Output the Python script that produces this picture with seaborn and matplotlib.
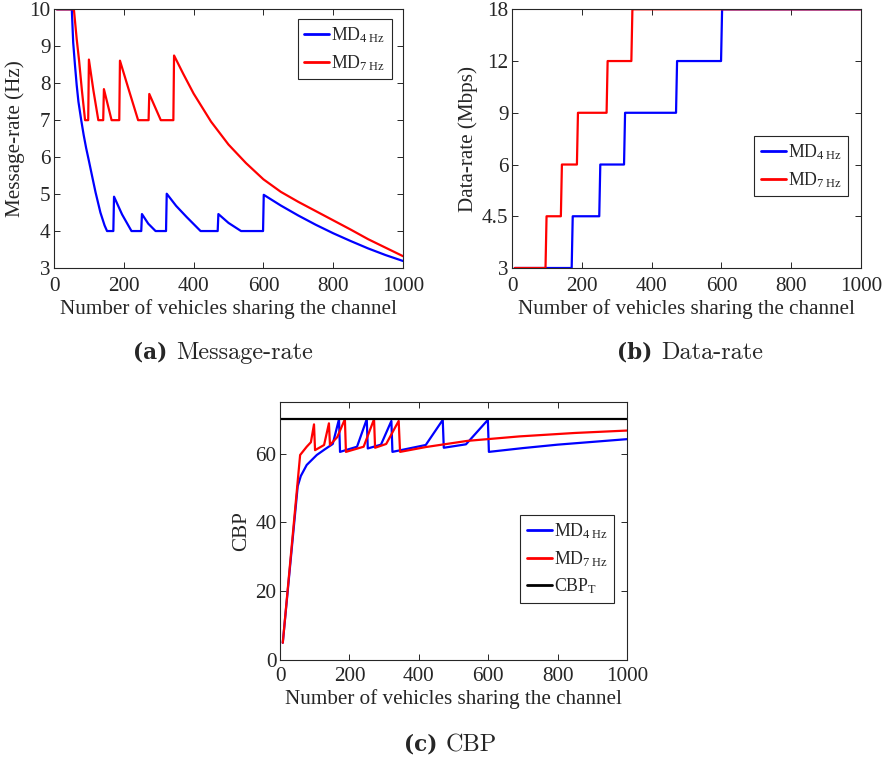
import numpy as np
import pandas as pd
import matplotlib
matplotlib.use("Agg")
import matplotlib.pyplot as plt
import seaborn as sns

# ---------------- data ----------------
# (a) message rate (Hz) versus number of vehicles
n_rate_4hz = [8, 51, 55, 60, 65, 70, 78, 85, 92, 100, 110, 119, 133, 145, 152, 170, 172, 195, 222,
              250, 252, 270, 291, 321, 323, 350, 380, 420, 469, 471, 500, 536, 599, 601, 650, 700,
              750, 800, 850, 900, 950, 1000]
rate_4hz = [10, 10, 9.1, 8.5, 7.95, 7.5, 7.0, 6.6, 6.25, 5.9, 5.45, 5.05, 4.5, 4.15, 4.0, 4.0, 4.93,
            4.45, 4.0, 4.0, 4.46, 4.2, 4.0, 4.0, 5.01, 4.68, 4.38, 4.0, 4.0, 4.46, 4.22, 4.0, 4.0,
            4.98, 4.69, 4.42, 4.17, 3.94, 3.73, 3.53, 3.35, 3.19]

n_rate_7hz = [8, 57, 65, 72, 80, 89, 98, 100, 113, 127, 141, 143, 165, 187, 189, 215, 241,
              271, 273, 306, 342, 344, 370, 400, 450, 500, 550, 600, 650, 700, 750, 800, 850,
              900, 950, 1000]
rate_7hz = [10, 10, 9.2, 8.6, 7.8, 7.0, 7.0, 8.64, 7.8, 7.0, 7.0, 7.84, 7.0, 7.0, 8.61, 7.8, 7.0,
            7.0, 7.71, 7.0, 7.0, 8.75, 8.26, 7.72, 6.96, 6.34, 5.84, 5.40, 5.06, 4.79, 4.54, 4.29,
            4.04, 3.78, 3.55, 3.32]

# (b) data rate (Mbps)
rate_levels = [3, 4.5, 6, 9, 12, 18]
n_drate_4hz = [8, 171, 174, 250, 253, 321, 324, 470, 473, 599, 602, 1000]
drate_4hz = [3, 3, 4.5, 4.5, 6, 6, 9, 9, 12, 12, 18, 18]
n_drate_7hz = [8, 96, 99, 140, 143, 186, 189, 271, 274, 342, 345, 1000]
drate_7hz = [3, 3, 4.5, 4.5, 6, 6, 9, 9, 12, 12, 18, 18]

# (c) channel busy percentage
n_cbp_4hz = [8, 51, 60, 77, 106, 130, 152, 170, 173, 222, 250, 253, 291, 321, 324, 420, 469, 472,
             536, 599, 602, 700, 800, 900, 1000]
cbp_4hz = [5, 50.5, 53.5, 56.7, 59.6, 61.3, 62.8, 70, 60.5, 62, 70, 61.5, 62.6, 69.5, 60.5, 62.5,
           69.8, 61.7, 62.7, 69.8, 60.5, 61.6, 62.6, 63.4, 64.2]
n_cbp_7hz = [8, 58, 77, 89, 98, 101, 127, 141, 144, 165, 187, 190, 241, 271, 274, 306, 342, 346,
             420, 540, 690, 850, 1000]
cbp_7hz = [5, 59.6, 62, 63.3, 68.5, 61, 62.5, 68.8, 62.5, 64.8, 70, 60.5, 62, 70, 61.7, 62.8, 69.5,
           60.5, 61.9, 63.7, 65, 66, 66.7]
cbp_threshold = 70

series_labels = [r"MD$_{\mathrm{4\ Hz}}$", r"MD$_{\mathrm{7\ Hz}}$"]
threshold_label = r"CBP$_{\mathrm{T}}$"
xlabel = "Number of vehicles sharing the channel"

# ---------------- style ----------------
sns.set_theme(style="ticks")
plt.rcParams["font.family"] = ["Liberation Serif", "DejaVu Serif"]
plt.rcParams["mathtext.fontset"] = "custom"
plt.rcParams["mathtext.rm"] = "Liberation Serif"
plt.rcParams["mathtext.it"] = "Liberation Serif:italic"
plt.rcParams["mathtext.bf"] = "Liberation Serif:bold"

DARK = "#262626"
LW = 1.6
FS = 15.2
LEG_FS = 12.8

fig = plt.figure(figsize=(8.89, 7.65), dpi=100)
ax_a = fig.add_axes([54 / 889, 1 - 268 / 765, 349 / 889, 258.7 / 765])
ax_b = fig.add_axes([512 / 889, 1 - 268 / 765, 349 / 889, 258.7 / 765])
ax_c = fig.add_axes([280 / 889, 1 - 660 / 765, 347 / 889, 258 / 765])


def style_axes(ax, xpad=6.5):
    for s in ax.spines.values():
        s.set_color(DARK)
        s.set_linewidth(0.8)
    ax.tick_params(direction="in", top=True, right=True, length=4.5, width=0.7,
                   color=DARK, labelcolor=DARK, labelsize=FS)
    ax.tick_params(axis="x", pad=xpad)
    ax.tick_params(axis="y", pad=2.5)
    ax.set_xlim(0, 1000)
    ax.set_xticks([0, 200, 400, 600, 800, 1000])
    ax.set_xlabel(xlabel, fontsize=FS, color=DARK, labelpad=2)


def add_legend(ax, anchor):
    leg = ax.legend(loc="upper right", bbox_to_anchor=anchor, fontsize=LEG_FS,
                    frameon=True, fancybox=False, framealpha=1, edgecolor=DARK,
                    handlelength=1.4, handletextpad=0.12, borderpad=0.35,
                    labelspacing=0.45, borderaxespad=0)
    leg.get_frame().set_linewidth(0.8)
    for line in leg.get_lines():
        line.set_linewidth(2.0)


# (a) message rate
df_a4 = pd.DataFrame({"n": n_rate_4hz, "v": rate_4hz})
df_a7 = pd.DataFrame({"n": n_rate_7hz, "v": rate_7hz})
sns.lineplot(data=df_a4, x="n", y="v", ax=ax_a, color="#0000ff", lw=LW,
             estimator=None, sort=False, label=series_labels[0])
sns.lineplot(data=df_a7, x="n", y="v", ax=ax_a, color="#ff0000", lw=LW,
             estimator=None, sort=False, label=series_labels[1])
style_axes(ax_a)
ax_a.set_ylim(3, 10)
ax_a.set_yticks(range(3, 11))
ax_a.set_ylabel("Message-rate (Hz)", fontsize=FS, color=DARK, labelpad=3)
add_legend(ax_a, (0.968, 0.962))

# (b) data rate on an evenly spaced level scale
idx = np.arange(len(rate_levels), dtype=float)


def fwd(v):
    return np.interp(v, rate_levels, idx)


def inv(p):
    return np.interp(p, idx, rate_levels)


ax_b.set_yscale("function", functions=(fwd, inv))
df_b4 = pd.DataFrame({"n": n_drate_4hz, "v": drate_4hz})
df_b7 = pd.DataFrame({"n": n_drate_7hz, "v": drate_7hz})
sns.lineplot(data=df_b4, x="n", y="v", ax=ax_b, color="#0000ff", lw=LW,
             estimator=None, sort=False, label=series_labels[0])
sns.lineplot(data=df_b7, x="n", y="v", ax=ax_b, color="#ff0000", lw=LW,
             estimator=None, sort=False, label=series_labels[1])
style_axes(ax_b)
ax_b.set_ylim(3, 18)
ax_b.set_yticks(rate_levels)
ax_b.set_yticklabels([f"{r:g}" for r in rate_levels])
ax_b.minorticks_off()
ax_b.set_ylabel("Data-rate (Mbps)", fontsize=FS, color=DARK, labelpad=3)
add_legend(ax_b, (0.963, 0.510))

# (c) CBP
df_c4 = pd.DataFrame({"n": n_cbp_4hz, "v": cbp_4hz})
df_c7 = pd.DataFrame({"n": n_cbp_7hz, "v": cbp_7hz})
sns.lineplot(data=df_c4, x="n", y="v", ax=ax_c, color="#0000ff", lw=LW,
             estimator=None, sort=False, label=series_labels[0])
sns.lineplot(data=df_c7, x="n", y="v", ax=ax_c, color="#ff0000", lw=LW,
             estimator=None, sort=False, label=series_labels[1])
ax_c.axhline(cbp_threshold, color="black", lw=LW, label=threshold_label)
style_axes(ax_c, xpad=5)
ax_c.set_ylim(0, 75)
ax_c.set_yticks([0, 20, 40, 60])
ax_c.set_ylabel("CBP", fontsize=FS, color=DARK, labelpad=3)
add_legend(ax_c, (0.963, 0.562))

# sub-figure captions
CAP = 17.5
captions = [((167 / 889, 1 - 353 / 765), "(a)", "Message-rate"),
            ((652 / 889, 1 - 353 / 765), "(b)", "Data-rate"),
            ((437 / 889, 1 - 745 / 765), "(c)", "CBP")]
for (x, y), tag, name in captions:
    fig.text(x, y, tag, family="DejaVu Serif", fontweight="bold", fontsize=15.5,
             ha="right", va="center", color=DARK)
    fig.text(x + 9 / 889, y, name, family="cmr10", fontsize=CAP, ha="left", va="center",
             color=DARK)

fig.savefig("out.png", dpi=100)
